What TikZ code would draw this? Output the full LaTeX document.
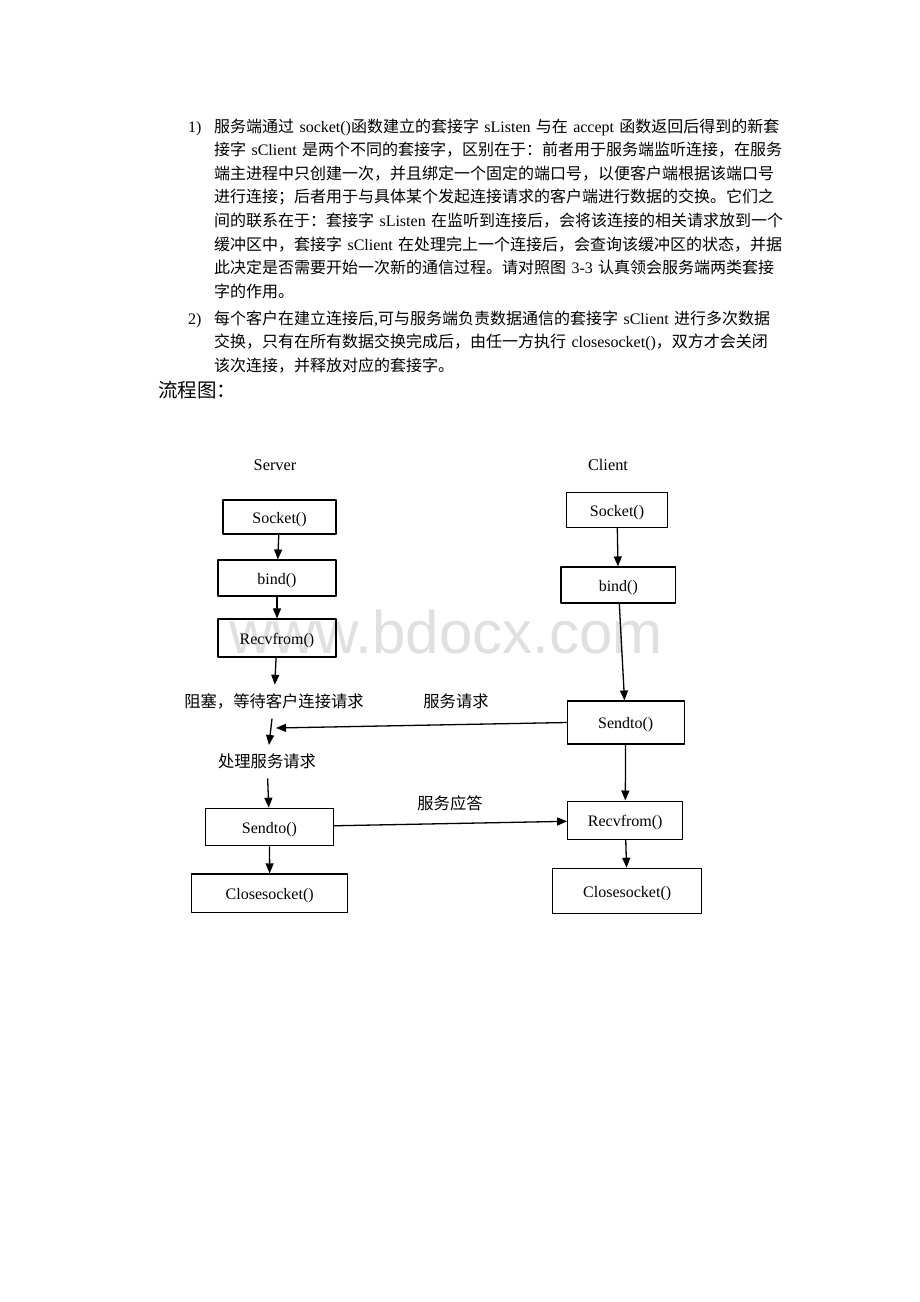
\documentclass[tikz,border=0pt]{standalone}
\usepackage{fontspec}
\setmainfont{Liberation Serif}[WordSpace={1,2,2}]
\newfontfamily\zhfont{Noto Sans CJK SC}
\newfontfamily\wmfont{Liberation Sans}
\newcommand{\zh}[1]{{\zhfont #1}}
\newcommand{\jline}[1]{\leavevmode\hbox to 568pt{#1\unskip}}
\XeTeXlinebreaklocale "zh"
\XeTeXlinebreakskip=0pt plus 2pt minus 0.5pt\relax
\usetikzlibrary{arrows.meta}
\tikzset{
	blk/.style={draw,line width=1.1pt,inner sep=0pt,text height=16pt,text depth=3.5pt,font=\fontsize{16}{18}\selectfont},
	flow/.style={->,line width=1.3pt},
	tag/.style={inner xsep=0pt,inner ysep=9pt,font=\fontsize{16.3}{18}\selectfont},
	para/.style={anchor=base west,inner sep=0pt,text width=568pt,align=left,font=\fontsize{16}{23.6}\selectfont}
}
\begin{document}
\begin{tikzpicture}[line join=round,>={Triangle[length=10pt,width=8pt]},x=1pt,y=-1pt]
	\path[use as bounding box,fill=white] (0,0) rectangle (920,1302);
	\node[anchor=base,text=black!12,font=\wmfont\fontsize{60}{60}\selectfont] (wm) at (446,653) {www.bdocx.com};
	\node[anchor=base west,inner sep=0pt,font=\fontsize{16}{20}\selectfont] (n1) at (188,132) {1)};
	\node[para] (p1) at (214,132) {\jline{\zh{服务端通过} socket()\zh{函数建立的套接字} sListen \zh{与在} accept \zh{函数返回后得到的新套}}\\
	\jline{\zh{接字} sClient \zh{是两个不同的套接字，区别在于：前者用于服务端监听连接，在服务}}\\
	\jline{\zh{端主进程中只创建一次，并且绑定一个固定的端口号，以便客户端根据该端口号}}\\
	\jline{\zh{进行连接；后者用于与具体某个发起连接请求的客户端进行数据的交换。它们之}}\\
	\jline{\zh{间的联系在于：套接字} sListen \zh{在监听到连接后，会将该连接的相关请求放到一个}}\\
	\jline{\zh{缓冲区中，套接字} sClient \zh{在处理完上一个连接后，会查询该缓冲区的状态，并据}}\\
	\jline{\zh{此决定是否需要开始一次新的通信过程。请对照图} 3-3 \zh{认真领会服务端两类套接}}\\
	\zh{字的作用。}};
	\node[anchor=base west,inner sep=0pt,font=\fontsize{16}{20}\selectfont] (n2) at (188,324) {2)};
	\node[para] (p2) at (214,324) {\jline{\zh{每个客户在建立连接后},\zh{可与服务端负责数据通信的套接字} sClient \zh{进行多次数据}}\\
	\jline{\zh{交换，只有在所有数据交换完成后，由任一方执行} closesocket()\zh{，双方才会关闭}}\\
	\zh{该次连接，并释放对应的套接字。}};
	\node[anchor=base west,inner sep=0pt,font=\fontsize{19.5}{22}\selectfont] (chart) at (158,397.5) {\zh{流程图：}};
	\node[tag] (srvlbl) at (275,465) {Server};
	\node[tag] (clilbl) at (608,465) {Client};
	\node[blk,minimum width=113pt,minimum height=34pt] (srvsock) at (279.5,517) {Socket()};
	\node[blk,minimum width=118pt,minimum height=36pt] (srvbind) at (277,578) {bind()};
	\node[blk,minimum width=118pt,minimum height=38pt] (srvrecv) at (277,638) {Recvfrom()};
	\node[tag] (wait) at (274,701.7) {\zh{阻塞，等待客户连接请求}};
	\node[tag] (handle) at (267,761.7) {\zh{处理服务请求}};
	\node[blk,minimum width=128pt,minimum height=37.5pt] (srvsend) at (269.5,827) {Sendto()};
	\node[blk,minimum width=156pt,minimum height=38.5pt] (srvclose) at (269.7,893.2) {Closesocket()};
	\node[blk,minimum width=101.5pt,minimum height=34.5pt] (clisock) at (617,510) {Socket()};
	\node[blk,minimum width=114.7pt,minimum height=36pt] (clibind) at (618.3,585) {bind()};
	\node[blk,minimum width=116.7pt,minimum height=43pt] (clisend) at (625.7,722.5) {Sendto()};
	\node[blk,minimum width=115pt,minimum height=38.3pt] (clirecv) at (625.2,820.2) {Recvfrom()};
	\node[blk,minimum width=149pt,minimum height=45pt] (cliclose) at (627.2,890.8) {Closesocket()};
	\node[tag] (req) at (456,701.7) {\zh{服务请求}};
	\node[tag] (resp) at (450,803.3) {\zh{服务应答}};
	\coordinate (join) at (276,728);
	\draw[flow] (srvsock)--(srvbind);
	\draw[flow] (srvbind)--(srvrecv);
	\draw[flow] (srvrecv)--(wait);
	\draw[flow] (wait)--(handle);
	\draw[flow] (handle)--(srvsend);
	\draw[flow] (srvsend)--(srvclose);
	\draw[flow] (clisock)--(clibind);
	\draw[flow] (clibind)--(clisend);
	\draw[flow] (clisend)--(clirecv);
	\draw[flow] (clirecv)--(cliclose);
	\draw[flow] (clisend.west)--(join);
	\draw[flow] (srvsend)--(clirecv);
\end{tikzpicture}
\end{document}
